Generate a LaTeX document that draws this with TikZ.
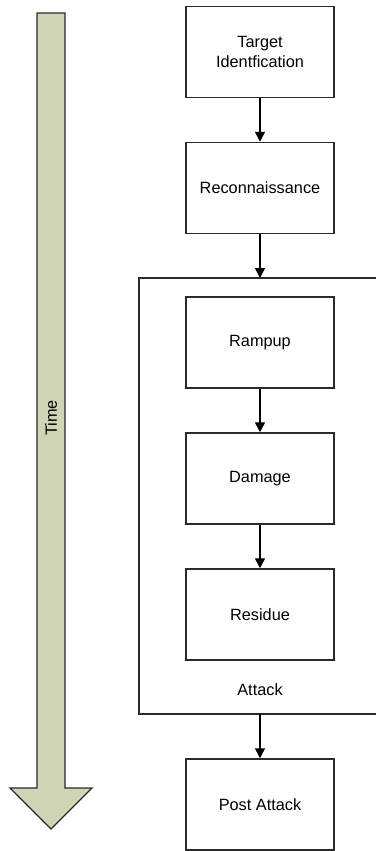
\documentclass[tikz,border=0pt]{standalone}
\usepackage{fontspec}
\setmainfont{Liberation Sans}
\usetikzlibrary{arrows.meta}
\definecolor{timefill}{HTML}{CFD6B6}
\definecolor{linecol}{HTML}{2A2A2A}
\begin{document}
\begin{tikzpicture}[x=1pt,y=-1pt,
  stepbox/.style={draw=linecol,line width=1.5pt,minimum width=148pt,minimum height=91pt,
    align=center,font=\fontsize{16.3}{19.5}\selectfont,inner sep=0pt},
  lbl/.style={font=\fontsize{16.3}{19.5}\selectfont},
  conn/.style={draw=black,line width=1.5pt,-{Triangle[length=10pt,width=10pt]}}]
\useasboundingbox (0,0) rectangle (375,851);
% time arrow
\draw[draw=linecol,line width=1.3pt,fill=timefill,line join=miter]
  (37,13) -- (65,13) -- (65,788) -- (92,788) -- (51,829) -- (10,788) -- (37,788) -- cycle;
\node[rotate=90,lbl] (time) at (51,418) {Time};
% steps
\node[stepbox] (target) at (260,52) {Target\\Identfication};
\node[stepbox] (recon) at (260,188) {Reconnaissance};
\node[stepbox] (ramp) at (260,342.5) {Rampup};
\node[stepbox] (damage) at (260,478.5) {Damage};
\node[stepbox] (residue) at (260,614.5) {Residue};
\node[stepbox] (post) at (260,804.5) {Post Attack};
% attack container
\draw[draw=linecol,line width=1.5pt] (376,278) -- (139,278) -- (139,714) -- (376,714);
\coordinate (atop) at (260,278);
\coordinate (abot) at (260,714);
\node[lbl] (attack) at (260,690) {Attack};
% connectors
\draw[conn] (target) -- (recon);
\draw[conn] (recon) -- (atop);
\draw[conn] (ramp) -- (damage);
\draw[conn] (damage) -- (residue);
\draw[conn] (abot) -- (post);
\end{tikzpicture}
\end{document}
